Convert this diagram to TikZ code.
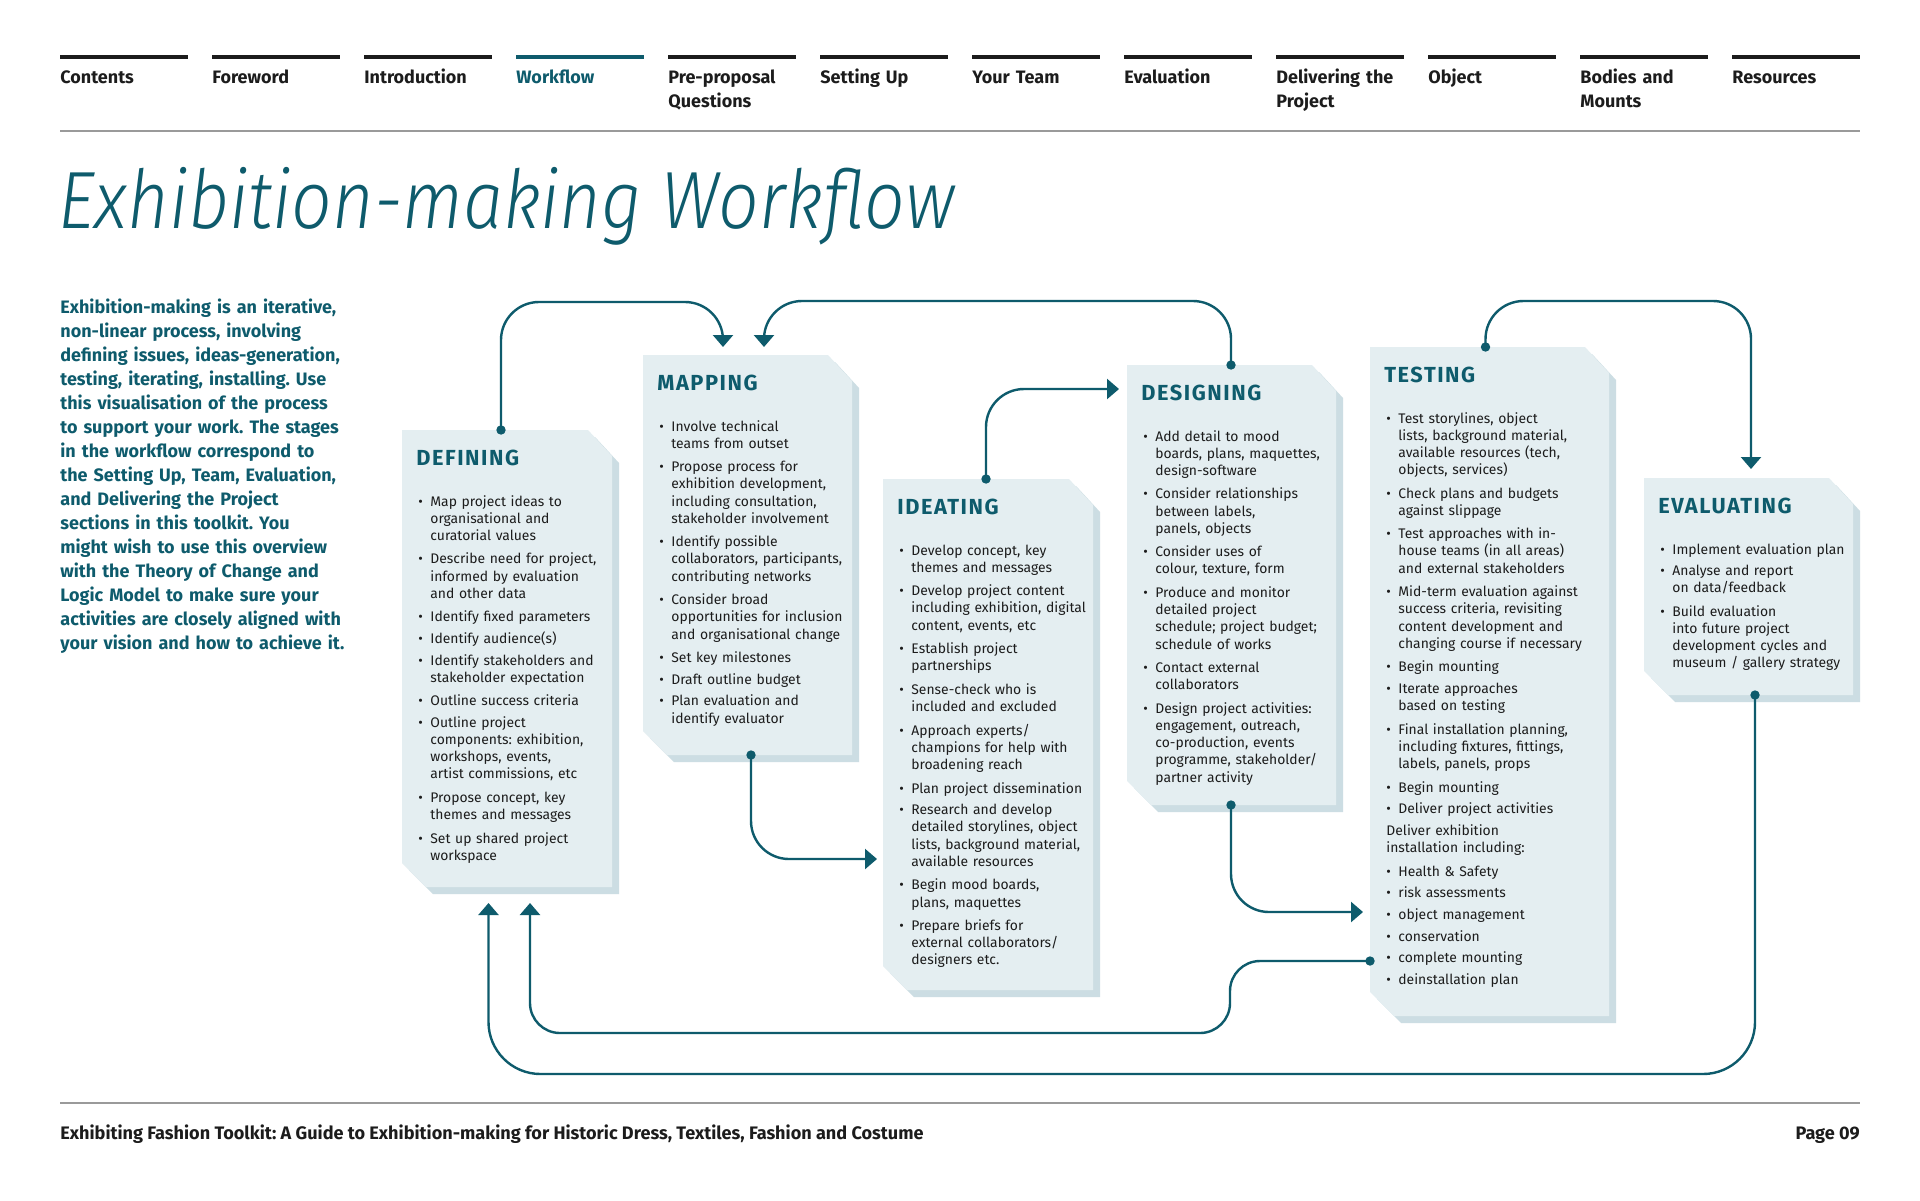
\documentclass[tikz,border=0pt]{standalone}
\usepackage{fontspec}
\setmainfont{Fira Sans}
\newfontfamily\headfont{Fira Sans Light}[FakeStretch=0.88]
\newfontfamily\stagefont{Fira Sans}[LetterSpace=7]
\usetikzlibrary{arrows.meta, fit}
\frenchspacing

\definecolor{inkteal}{HTML}{0E5B6C}
\definecolor{boxface}{HTML}{E4EEF1}
\definecolor{boxshade}{HTML}{CCDDE3}
\definecolor{ink}{HTML}{1C1C1C}
\definecolor{rulegray}{HTML}{9A9A9A}

% one bullet item, lines split by \\
\newcommand\bul[1]{\noindent\makebox[6pt][l]{\textbullet}\begin{tabular}[t]{@{}l@{}}#1\end{tabular}\par\vskip2.25pt}
% the same, no bullet
\newcommand\nobul[1]{\noindent\begin{tabular}[t]{@{}l@{}}#1\end{tabular}\par\vskip2.25pt}

% stage panel: name, left, top, right, bottom (page pixels)
\newcommand\stagebox[5]{%
  \fill[boxshade, shift={(7,7)}] (#2,#3) -- ({#4-24},#3) -- (#4,{#3+26}) -- (#4,#5) -- ({#2+24},#5) -- (#2,{#5-24}) -- cycle;
  \fill[boxface] (#2,#3) -- ({#4-24},#3) -- (#4,{#3+26}) -- (#4,#5) -- ({#2+24},#5) -- (#2,{#5-24}) -- cycle;
  \node[fit={(#2,#3) (#4,#5)}, inner sep=0pt, outer sep=0pt] (#1) {};}

\begin{document}
\begin{tikzpicture}[x=0.5pt, y=-0.5pt,
  tabbar/.style={line width=2.2pt},
  tablabel/.style={font=\fontsize{9}{12.2}\selectfont\bfseries, anchor=base west, text width=70pt, align=left, inner sep=0pt},
  stagetitle/.style={font=\stagefont\fontsize{10.9}{12}\selectfont\bfseries, text=inkteal, anchor=base west, inner sep=0pt},
  stagelist/.style={font=\fontsize{6.95}{8.57}\selectfont, text=ink, anchor=base west, inner sep=0pt, text width=125pt, align=left},
  flow/.style={draw=inkteal, line width=1.2pt, rounded corners=19pt, arrows={Circle[length=4.6pt]-Triangle[length=6pt,width=10pt]}},
  footer/.style={font=\fontsize{9.05}{10}\selectfont\bfseries, text=ink, inner sep=0pt}]

  \useasboundingbox (0,0) rectangle (1920,1200);
  \fill[white] (0,0) rectangle (1920,1200);

  % top menu
  \foreach \lbl/\col [count=\i from 0] in {Contents/ink, Foreword/ink, Introduction/ink, Workflow/inkteal,
      Pre-proposal\\Questions/ink, Setting Up/ink, Your Team/ink, Evaluation/ink,
      Delivering the\\Project/ink, Object/ink, Bodies and\\Mounts/ink, Resources/ink} {
    \draw[tabbar, \col] ({60+152*\i},57) -- ++(128,0);
    \node[tablabel, text=\col] (tab\i) at ({60+152*\i},83) {\lbl};
  }
  \draw[rulegray, line width=1pt] (60,131) -- (1860,131);

  % heading and intro
  \node[anchor=base west, inner sep=0pt, text=inkteal, font=\headfont\itshape\fontsize{40.6}{44}\selectfont] (title) at (58,228) {Exhibition-making Workflow};

  \node[anchor=base west, inner sep=0pt, text width=170pt, align=left, text=inkteal, font=\fontsize{9}{12}\selectfont\bfseries] (intro) at (60,313)
    {Exhibition-making is an iterative,\\
     non-linear process, involving\\
     defining issues, ideas-generation,\\
     testing, iterating, installing. Use\\
     this visualisation of the process\\
     to support your work. The stages\\
     in the workflow correspond to\\
     the Setting Up, Team, Evaluation,\\
     and Delivering the Project\\
     sections in this toolkit. You\\
     might wish to use this overview\\
     with the Theory of Change and\\
     Logic Model to make sure your\\
     activities are closely aligned with\\
     your vision and how to achieve it.};

  % stage panels
  \stagebox{def}{402}{430}{612}{887}
  \stagebox{map}{643}{355}{852}{755}
  \stagebox{ide}{883}{479}{1093}{990}
  \stagebox{des}{1127}{365}{1336}{805}
  \stagebox{tes}{1370}{347}{1609}{1016}
  \stagebox{eva}{1644}{478}{1853}{695}

  \node[stagetitle] (def-title) at ([shift={(14,35)}]def.north west) {DEFINING};
  \node[stagelist] (def-list) at ([shift={(16,76)}]def.north west) {%
    \bul{Map project ideas to\\organisational and\\curatorial values}
    \bul{Describe need for project,\\informed by evaluation\\and other data}
    \bul{Identify fixed parameters}
    \bul{Identify audience(s)}
    \bul{Identify stakeholders and\\stakeholder expectation}
    \bul{Outline success criteria}
    \bul{Outline project\\components: exhibition,\\workshops, events,\\artist commissions, etc}
    \bul{Propose concept, key\\themes and messages}
    \bul{Set up shared project\\workspace}};

  \node[stagetitle] (map-title) at ([shift={(14,35)}]map.north west) {MAPPING};
  \node[stagelist] (map-list) at ([shift={(16,76)}]map.north west) {%
    \bul{Involve technical\\teams from outset}
    \bul{Propose process for\\exhibition development,\\including consultation,\\stakeholder involvement}
    \bul{Identify possible\\collaborators, participants,\\contributing networks}
    \bul{Consider broad\\opportunities for inclusion\\and organisational change}
    \bul{Set key milestones}
    \bul{Draft outline budget}
    \bul{Plan evaluation and\\identify evaluator}};

  \node[stagetitle] (ide-title) at ([shift={(14,35)}]ide.north west) {IDEATING};
  \node[stagelist] (ide-list) at ([shift={(16,76)}]ide.north west) {%
    \bul{Develop concept, key\\themes and messages}
    \bul{Develop project content\\including exhibition, digital\\content, events, etc}
    \bul{Establish project\\partnerships}
    \bul{Sense-check who is\\included and excluded}
    \bul{Approach experts/\\champions for help with\\broadening reach}
    \bul{Plan project dissemination}
    \bul{Research and develop\\detailed storylines, object\\lists, background material,\\available resources}
    \bul{Begin mood boards,\\plans, maquettes}
    \bul{Prepare briefs for\\external collaborators/\\designers etc.}};

  \node[stagetitle] (des-title) at ([shift={(14,35)}]des.north west) {DESIGNING};
  \node[stagelist] (des-list) at ([shift={(16,76)}]des.north west) {%
    \bul{Add detail to mood\\boards, plans, maquettes,\\design-software}
    \bul{Consider relationships\\between labels,\\panels, objects}
    \bul{Consider uses of\\colour, texture, form}
    \bul{Produce and monitor\\detailed project\\schedule; project budget;\\schedule of works}
    \bul{Contact external\\collaborators}
    \bul{Design project activities:\\engagement, outreach,\\co-production, events\\programme, stakeholder/\\partner activity}};

  \node[stagetitle] (tes-title) at ([shift={(14,35)}]tes.north west) {TESTING};
  \node[stagelist] (tes-list) at ([shift={(16,76)}]tes.north west) {%
    \bul{Test storylines, object\\lists, background material,\\available resources (tech,\\objects, services)}
    \bul{Check plans and budgets\\against slippage}
    \bul{Test approaches with in-\\house teams (in all areas)\\and external stakeholders}
    \bul{Mid-term evaluation against\\success criteria, revisiting\\content development and\\changing course if necessary}
    \bul{Begin mounting}
    \bul{Iterate approaches\\based on testing}
    \bul{Final installation planning,\\including fixtures, fittings,\\labels, panels, props}
    \bul{Begin mounting}
    \bul{Deliver project activities}
    \nobul{Deliver exhibition\\installation including:}
    \bul{Health \& Safety}
    \bul{risk assessments}
    \bul{object management}
    \bul{conservation}
    \bul{complete mounting}
    \bul{deinstallation plan}};

  \node[stagetitle] (eva-title) at ([shift={(14,35)}]eva.north west) {EVALUATING};
  \node[stagelist] (eva-list) at ([shift={(16,76)}]eva.north west) {%
    \bul{Implement evaluation plan}
    \bul{Analyse and report\\on data/feedback}
    \bul{Build evaluation\\into future project\\development cycles and\\museum / gallery strategy}};

  % connectors between stages
  \draw[flow] ([shift={(-6,4.6)}]def.north) -- ++(0,-132.6) -| ([shift={(-24.5,-8)}]map.north);
  \draw[flow] ([shift={(-0.5,4.6)}]des.north) -- ++(0,-68.6) -| ([shift={(16.5,-8)}]map.north);
  \draw[flow] ([shift={(3.5,-4.6)}]map.south) |- ([shift={(-6,124.5)}]ide.west);
  \draw[flow] ([shift={(-2,4.6)}]ide.north) |- ([shift={(-8,-196)}]des.west);
  \draw[flow] ([shift={(-0.5,-4.6)}]des.south) |- ([shift={(-7,230.5)}]tes.west);
  \draw[flow] ([shift={(-4,4.6)}]tes.north) -- ++(0,-50.6) -| ([shift={(2.5,-9)}]eva.north);
  % loops back to defining
  \draw[flow, rounded corners=15pt] ([shift={(4.6,279.5)}]tes.west) -- ++(-144.6,0) -- ++(0,72) -| ([shift={(23,16)}]def.south);
  \draw[flow, rounded corners=26pt] ([shift={(6.5,-4.6)}]eva.south) -- ++(0,383.6) -| ([shift={(-18.5,16)}]def.south);

  % footer
  \draw[rulegray, line width=1pt] (60,1103) -- (1860,1103);
  \node[footer, anchor=base west] (foot) at (60,1139) {Exhibiting Fashion Toolkit: A Guide to Exhibition-making for Historic Dress, Textiles, Fashion and Costume};
  \node[footer, anchor=base east] (page) at (1860,1139) {Page 09};
\end{tikzpicture}
\end{document}
